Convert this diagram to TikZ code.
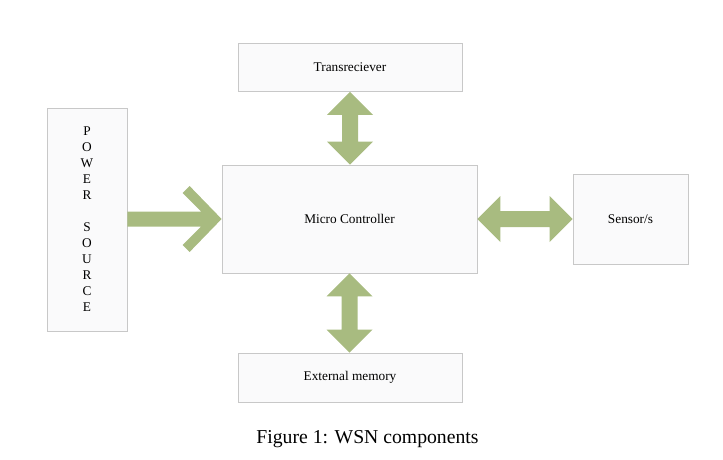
\documentclass[tikz,border=0pt]{standalone}
\usepackage{fontspec}
\setmainfont{Liberation Serif}
\usetikzlibrary{calc}
\definecolor{boxline}{HTML}{C8C8C8}
\definecolor{boxfill}{HTML}{FAFAFB}
\definecolor{arrowgreen}{HTML}{A8BB80}

\begin{document}
\begin{tikzpicture}[
  x=1pt,
  y=-1pt,
  every node/.style={font=\fontsize{13.3}{16}\selectfont, black},
  block/.style={draw=boxline, fill=boxfill, line width=0.8pt, inner sep=0pt},
  vblock/.style={fill=arrowgreen, to path={
    let \p1=(\tikztostart), \p2=(\tikztotarget) in
    (\x1,\y1) -- (\x1+23pt,\y1-23pt) -- (\x1+8pt,\y1-23pt) -- (\x1+8pt,\y2+23pt)
    -- (\x1+23pt,\y2+23pt) -- (\x1,\y2) -- (\x1-23pt,\y2+23pt) -- (\x1-8pt,\y2+23pt)
    -- (\x1-8pt,\y1-23pt) -- (\x1-23pt,\y1-23pt) -- cycle}},
  hblock/.style={fill=arrowgreen, to path={
    let \p1=(\tikztostart), \p2=(\tikztotarget) in
    (\x1,\y1) -- (\x1+23pt,\y1+23pt) -- (\x1+23pt,\y1+8pt) -- (\x2-23pt,\y1+8pt)
    -- (\x2-23pt,\y1+23pt) -- (\x2,\y1) -- (\x2-23pt,\y1-23pt) -- (\x2-23pt,\y1-8pt)
    -- (\x1+23pt,\y1-8pt) -- (\x1+23pt,\y1-23pt) -- cycle}},
  lineblock/.style={fill=arrowgreen, to path={
    let \p1=(\tikztostart), \p2=(\tikztotarget) in
    (\x1,\y1+7.5pt) -- (\x2-20.5pt,\y1+7.5pt) -- (\x2-39pt,\y1+26pt)
    -- (\x2-32pt,\y1+33pt) -- (\x2,\y1) -- (\x2-32pt,\y1-33pt)
    -- (\x2-39pt,\y1-26pt) -- (\x2-20.5pt,\y1-7.5pt) -- (\x1,\y1-7.5pt) -- cycle}}
]
  % ---- page frame ----
  \useasboundingbox (0,0) rectangle (723,460);

  % ---- blocks ----
  \node[block, minimum width=224, minimum height=48] (trx) at (350,67.5) {Transreciever};
  \node[block, minimum width=255, minimum height=108] (mcu) at (349.5,219) {Micro Controller};
  \node[block, minimum width=224, minimum height=49] (mem) at (350,377.5) {External memory};
  \node[block, minimum width=115, minimum height=90] (sen) at (630.5,219) {Sensor/s};
  \node[block, minimum width=80, minimum height=223, align=center] (pwr) at (87,219.5)
    {P\\O\\W\\E\\R\\[16pt]S\\O\\U\\R\\C\\E};

  % ---- block arrows ----
  \path[vblock] (trx.south) to (mcu.north);
  \path[vblock] (mcu.south) to (mem.north);
  \path[hblock] (mcu.east) to (sen.west);
  \path[lineblock] (pwr.east |- mcu.west) to (mcu.west);

  % ---- caption ----
  \node[font=\fontsize{19.7}{23}\selectfont, anchor=base] (cap) at (367.5,443)
    {Figure 1: WSN components};
\end{tikzpicture}
\end{document}
